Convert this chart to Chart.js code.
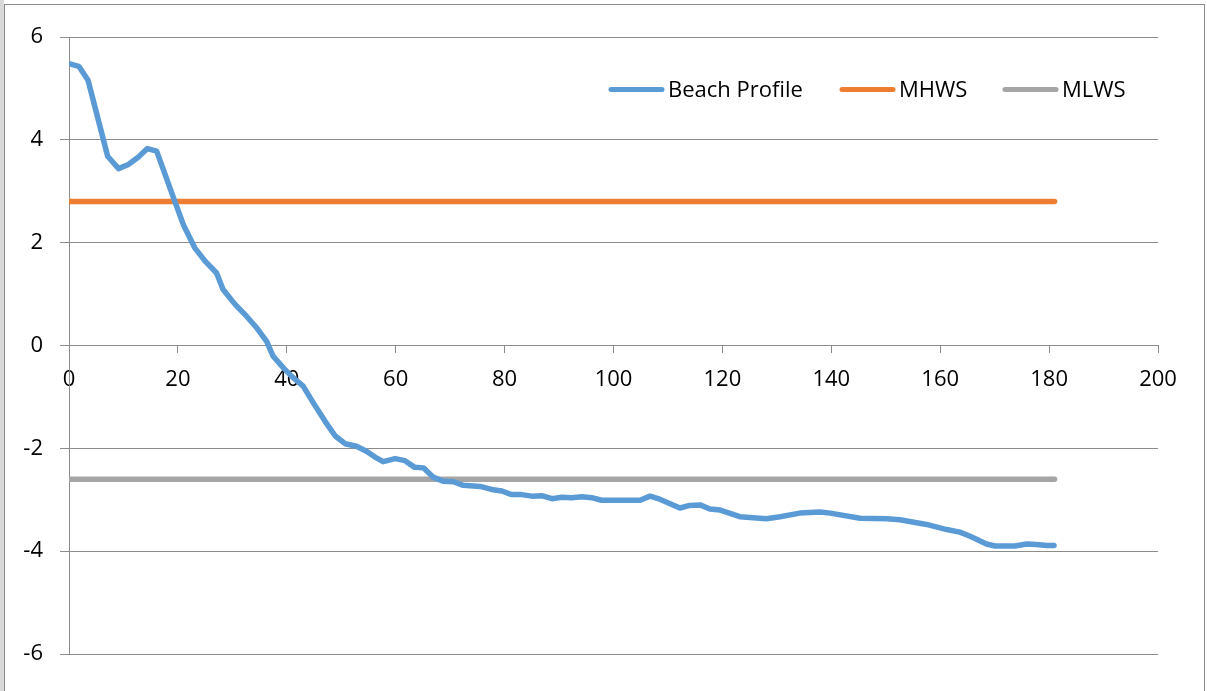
<!DOCTYPE html>
<html>
<head>
<meta charset="utf-8">
<script src="https://cdn.jsdelivr.net/npm/chart.js@4"></script>
<style>
  body { margin: 0; background: #fff; }
  #strip { position: absolute; left: 0; top: 0; width: 4px; height: 691px; background: #d9d9d9; }
  #frame { position: absolute; left: 4px; top: 4px; width: 1199px; height: 700px; border: 1px solid #8c8c8c; }
  #wrap { position: absolute; left: 0; top: 0; width: 1207px; height: 691px; }
</style>
</head>
<body>
<div id="strip"></div>
<div id="frame"></div>
<div id="wrap"><canvas id="grafico" width="1207" height="691"></canvas></div>
<script>
// distancia a lo largo del perfil y altura
const profileX = [0, 1.8, 3.5, 7.1, 9.1, 10.9, 12.7, 14.4, 16.1, 19.1, 21, 23.1, 25, 27.1, 28.3, 30.5,
  32.6, 34.5, 36.3, 37.5, 39.5, 40.9, 43, 44.9, 47, 48.9, 50.7, 52.8, 54.7, 56.2, 57.7, 59.9,
  61.7, 63.5, 65.1, 66.9, 68.7, 70.6, 72.4, 75.5, 77.6, 79.5, 81.3, 83.1, 85, 86.8, 88.7, 90.5,
  92.3, 94.2, 96, 97.8, 104.9, 106.7, 108.5, 112.2, 114, 115.9, 117.7, 119.6, 123.2, 128.1, 130.6,
  134.2, 137.9, 139.8, 145.3, 150.2, 152.6, 157.5, 161.2, 163.6, 165.5, 168.5, 170.1, 173.7, 175.9,
  177.7, 179.6, 180.9];
const profileY = [5.48, 5.43, 5.16, 3.68, 3.44, 3.52, 3.66, 3.83, 3.78, 2.9, 2.35, 1.9, 1.64, 1.41, 1.09, 0.8,
  0.57, 0.34, 0.08, -0.21, -0.45, -0.6, -0.79, -1.12, -1.47, -1.76, -1.91, -1.96, -2.06, -2.17, -2.26, -2.2,
  -2.24, -2.37, -2.38, -2.56, -2.64, -2.65, -2.72, -2.74, -2.8, -2.83, -2.9, -2.9, -2.93, -2.92, -2.98, -2.95,
  -2.96, -2.94, -2.96, -3.01, -3.01, -2.93, -2.99, -3.16, -3.11, -3.1, -3.18, -3.2, -3.33, -3.37, -3.33,
  -3.26, -3.24, -3.26, -3.36, -3.37, -3.39, -3.48, -3.58, -3.63, -3.71, -3.86, -3.9, -3.9, -3.86,
  -3.87, -3.89, -3.89];

const levelX = [0, 181];
const mhwsLevel = 2.8;
const mlwsLevel = -2.6;

const seriesNames = ['Beach Profile', 'MHWS', 'MLWS'];
const seriesColors = ['#5b9bd5', '#ed7d31', '#a5a5a5'];

const xTicks = [0, 20, 40, 60, 80, 100, 120, 140, 160, 180, 200];
const yTicks = [-6, -4, -2, 0, 2, 4, 6];

const FONT = '"Open Sans", Lato, sans-serif';
const FONT_SIZE = 22;
const gridColor = '#8c8c8c';

function pts(xs, ys) {
  return xs.map((x, i) => ({x: x, y: Array.isArray(ys) ? ys[i] : ys}));
}

// leyenda dentro del área, como en la hoja de cálculo
const legendStarts = [609, 840, 1003];
const legendInside = {
  id: 'legendInside',
  afterDraw(chart) {
    const ctx = chart.ctx;
    ctx.save();
    ctx.font = FONT_SIZE + 'px ' + FONT;
    ctx.textBaseline = 'middle';
    ctx.fillStyle = '#000';
    const y = 89.5;
    chart.data.datasets.forEach((ds, i) => {
      const x = legendStarts[i];
      ctx.strokeStyle = ds.borderColor;
      ctx.lineWidth = 5;
      ctx.lineCap = 'round';
      ctx.beginPath();
      ctx.moveTo(x + 2, y);
      ctx.lineTo(x + 53, y);
      ctx.stroke();
      ctx.fillText(ds.label, x + 59, y + 1.5);
    });
    ctx.restore();
  }
};

const ctx = document.getElementById('grafico').getContext('2d');

const myChart = new Chart(ctx, {
  type: 'line',
  data: {
    datasets: [
      {label: seriesNames[0], data: pts(profileX, profileY), borderColor: seriesColors[0]},
      {label: seriesNames[1], data: pts(levelX, mhwsLevel), borderColor: seriesColors[1]},
      {label: seriesNames[2], data: pts(levelX, mlwsLevel), borderColor: seriesColors[2]}
    ].map(ds => Object.assign(ds, {
      borderWidth: 5.5,
      pointRadius: 0,
      tension: 0,
      fill: false,
      borderCapStyle: 'round',
      borderJoinStyle: 'round'
    }))
  },
  options: {
    responsive: false,
    animation: false,
    layout: {padding: {left: 0, right: 49, top: 37, bottom: 37}},
    plugins: {legend: {display: false}, tooltip: {enabled: false}},
    scales: {
      x: {
        type: 'linear',
        position: {y: 0},
        min: 0,
        max: 200,
        afterBuildTicks: s => { s.ticks = xTicks.map(v => ({value: v})); },
        grid: {drawOnChartArea: false, drawTicks: true, tickLength: 7, color: gridColor, lineWidth: 1},
        border: {display: true, color: gridColor, width: 1},
        ticks: {color: '#000', font: {family: FONT, size: FONT_SIZE}, padding: 14, maxRotation: 0}
      },
      y: {
        min: -6,
        max: 6,
        afterBuildTicks: s => { s.ticks = yTicks.map(v => ({value: v})); },
        afterFit: s => { s.width = 69; },
        grid: {color: gridColor, lineWidth: 1, tickLength: 9},
        border: {display: true, color: gridColor, width: 1},
        ticks: {color: '#000', font: {family: FONT, size: FONT_SIZE}, padding: 17}
      }
    }
  },
  plugins: [legendInside]
});
</script>
</body>
</html>
